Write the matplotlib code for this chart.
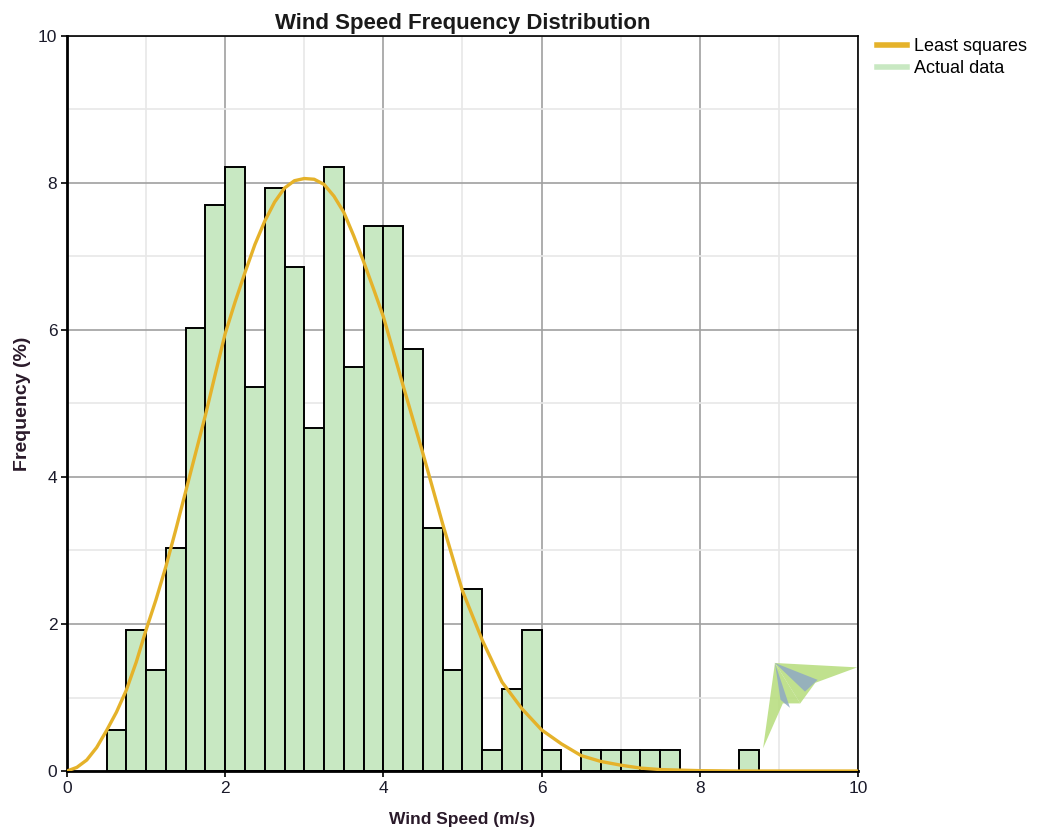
import numpy as np
import matplotlib
matplotlib.use("Agg")
import matplotlib.pyplot as plt
from matplotlib.lines import Line2D
from matplotlib.patches import Polygon

plt.rcParams['font.family'] = ['Liberation Sans', 'DejaVu Sans']

# ---------------- data ----------------
bin_left = [0.5, 0.75, 1.0, 1.25, 1.5, 1.75, 2.0, 2.25, 2.5, 2.75,
            3.0, 3.25, 3.5, 3.75, 4.0, 4.25, 4.5, 4.75, 5.0, 5.25,
            5.5, 5.75, 6.0, 6.5, 6.75, 7.0, 7.25, 7.5, 8.5]
freq = [0.56, 1.92, 1.37, 3.03, 6.02, 7.70, 8.21, 5.22, 7.93, 6.85,
        4.66, 8.21, 5.50, 7.41, 7.41, 5.74, 3.31, 1.37, 2.48, 0.28,
        1.11, 1.92, 0.28, 0.28, 0.28, 0.28, 0.28, 0.28, 0.28]
bin_width = 0.25

# least squares curve
fit_x = [0.0, 0.125, 0.25, 0.375, 0.5, 0.625, 0.75, 0.875, 1.0, 1.125,
         1.25, 1.375, 1.5, 1.625, 1.75, 1.875, 2.0, 2.125, 2.25, 2.375,
         2.5, 2.625, 2.75, 2.875, 3.0, 3.125, 3.25, 3.375, 3.5, 3.625,
         3.75, 3.875, 4.0, 4.25, 4.5, 4.75, 5.0, 5.25, 5.5, 5.75,
         6.0, 6.25, 6.5, 6.75, 7.0, 7.25, 7.5, 8.0, 8.5, 10.0]
fit_y = [0.0, 0.05, 0.15, 0.32, 0.55, 0.80, 1.10, 1.48, 1.92, 2.33,
         2.78, 3.28, 3.80, 4.32, 4.84, 5.40, 5.95, 6.38, 6.78, 7.16,
         7.48, 7.74, 7.93, 8.03, 8.06, 8.05, 7.98, 7.82, 7.60, 7.28,
         6.93, 6.56, 6.18, 5.24, 4.32, 3.36, 2.45, 1.78, 1.21, 0.85,
         0.56, 0.37, 0.21, 0.13, 0.08, 0.04, 0.02, 0.005, 0.0, 0.0]

# ---------------- figure ----------------
fig = plt.figure(figsize=(10.4, 8.35), dpi=100)
ax = fig.add_axes([0.0644, 0.0766, 0.7606, 0.8804])

bar_color = "#C8E8C2"
line_color = "#E5B22A"

ax.bar(bin_left, freq, width=bin_width, align="edge", color=bar_color,
       edgecolor="black", linewidth=1.4, zorder=2)
ax.plot(fit_x, fit_y, color=line_color, linewidth=2.4, zorder=3,
        solid_joinstyle="round", solid_capstyle="round")

# kite watermark
kite_green = "#B5DC7A"
kite_blue = "#8FA9C4"
shapes = [
    ([(8.95, 1.47), (9.99, 1.41), (9.46, 1.20), (9.27, 0.92)], kite_green),
    ([(8.95, 1.47), (9.27, 0.92), (9.05, 0.92), (8.80, 0.31)], kite_green),
    ([(8.95, 1.47), (9.49, 1.24), (9.33, 1.08)], kite_blue),
    ([(8.95, 1.47), (9.14, 0.86), (9.02, 0.97)], kite_blue),
]
for pts, c in shapes:
    ax.add_patch(Polygon(pts, closed=True, facecolor=c, edgecolor="none",
                         alpha=0.85, zorder=1))

ax.set_xlim(0, 10)
ax.set_ylim(0, 10)
ax.set_xticks([0, 2, 4, 6, 8, 10])
ax.set_yticks([0, 2, 4, 6, 8, 10])
ax.set_xticks([1, 3, 5, 7, 9], minor=True)
ax.set_yticks([1, 3, 5, 7, 9], minor=True)
ax.grid(True, which="major", color="#A0A0A0", linewidth=1.2, zorder=0)
ax.grid(True, which="minor", color="#E8E8E8", linewidth=1.2, zorder=0)
ax.set_axisbelow(True)
ax.tick_params(which="major", direction="out", length=4, width=1.2,
               labelsize=12.5, colors="black", labelcolor="#1a1a2a", pad=3)
ax.tick_params(which="minor", length=0)

for side in ["left", "bottom"]:
    ax.spines[side].set_linewidth(2)
for side in ["top", "right"]:
    ax.spines[side].set_linewidth(1.2)

ax.set_title("Wind Speed Frequency Distribution", fontsize=16,
             fontweight="bold", pad=5, color="#1a1a1a")
ax.set_xlabel("Wind Speed (m/s)", fontsize=12.5, fontweight="bold",
              labelpad=12, color="#2a1a2a")
ax.set_ylabel("Frequency (%)", fontsize=14, fontweight="bold",
              labelpad=5, color="#2a1a2a")

handles = [Line2D([], [], color=line_color, linewidth=4),
           Line2D([], [], color=bar_color, linewidth=4)]
fig.legend(handles, ["Least squares", "Actual data"], loc="upper left",
           bbox_to_anchor=(0.843, 0.954), frameon=False, fontsize=13,
           handlelength=1.67, handletextpad=0.4, labelspacing=0.28,
           borderaxespad=0, borderpad=0)

fig.savefig("out.png", dpi=100)
